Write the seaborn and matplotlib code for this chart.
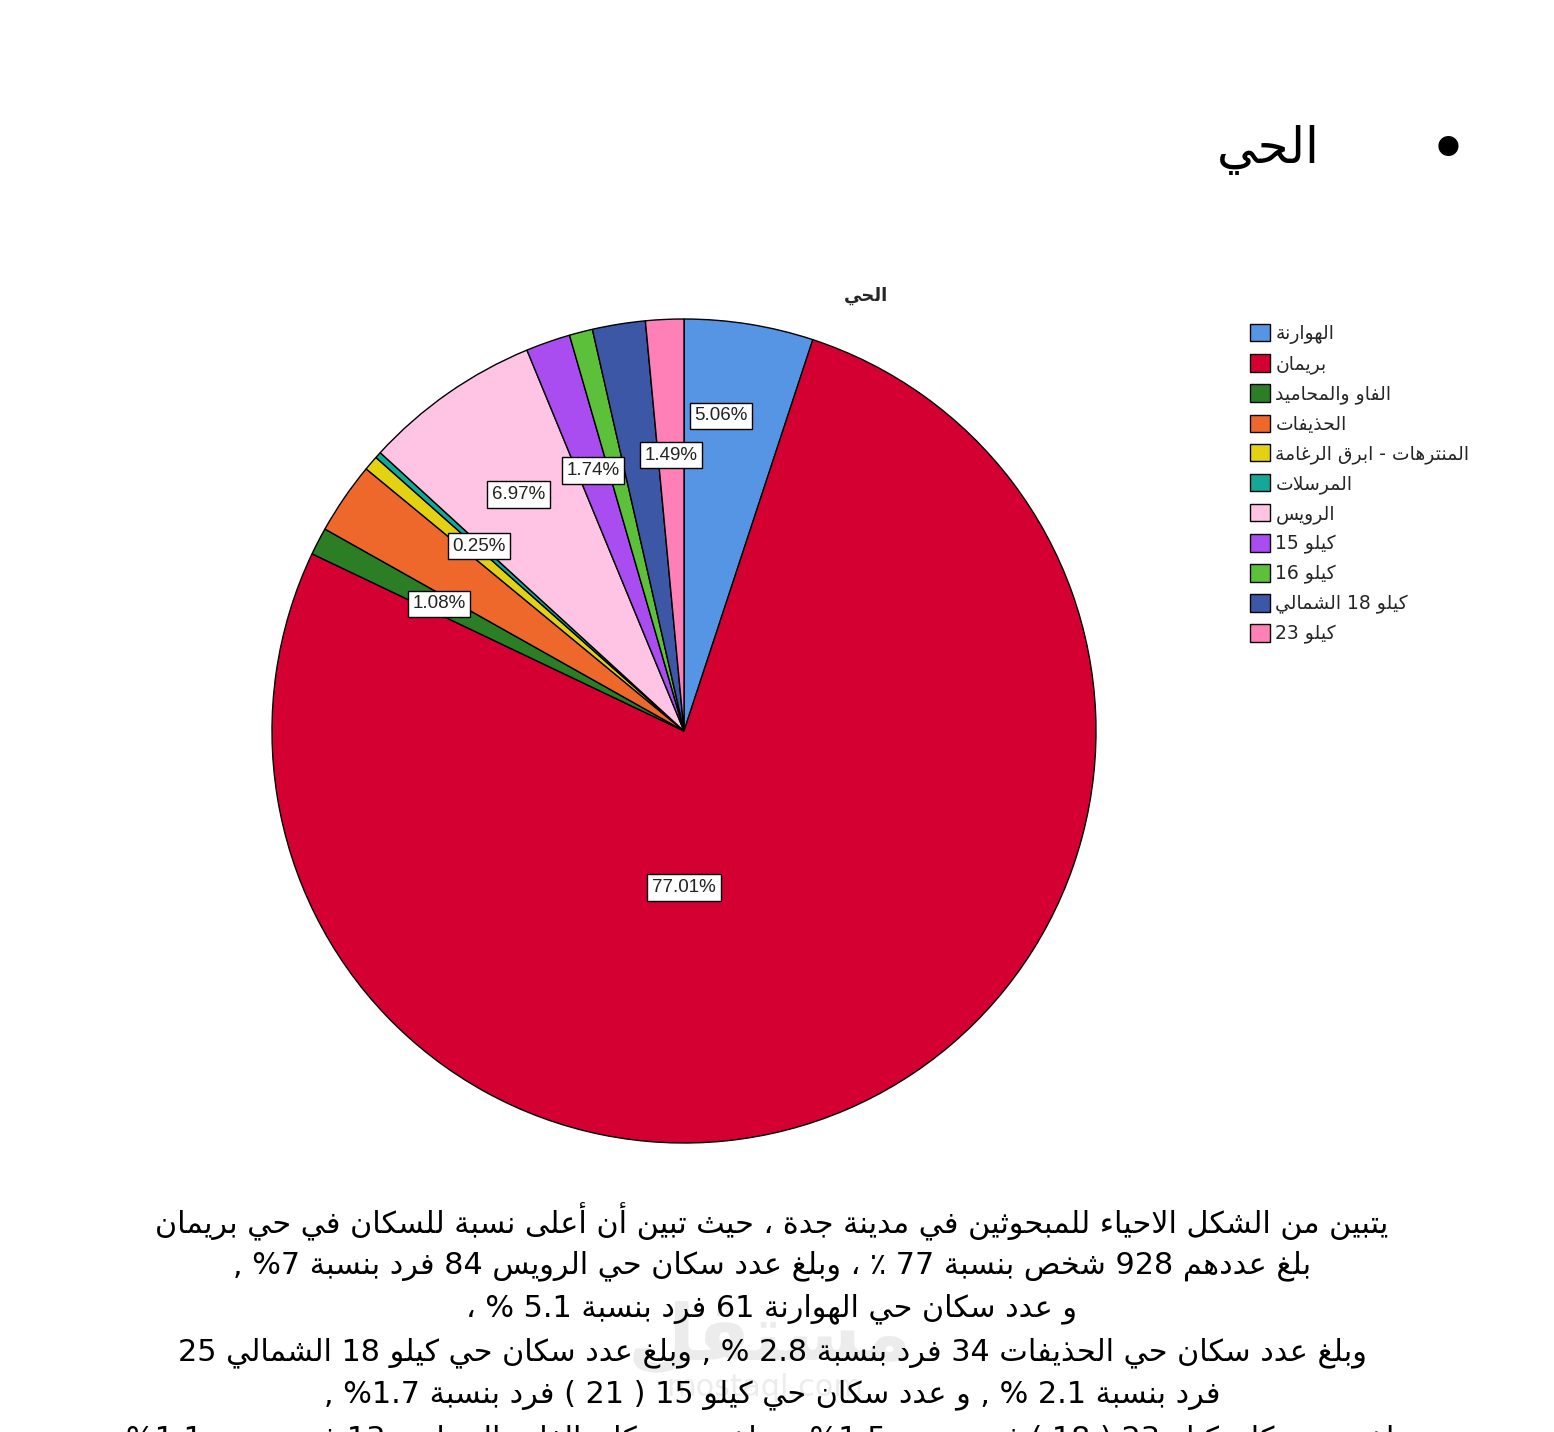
import re
import matplotlib
matplotlib.use("Agg")
import matplotlib.pyplot as plt
import seaborn as sns
import numpy as np
from matplotlib.patches import Patch

# ---------------- data ----------------
categories = ["الهوارنة", "بريمان", "الفاو والمحاميد", "الحذيفات",
              "المنترهات - ابرق الرغامة", "المرسلات", "الرويس",
              "كيلو 15", "كيلو 16", "كيلو 18 الشمالي", "كيلو 23"]
counts = [61, 928, 13, 34, 7, 3, 84, 21, 11, 25, 18]
shown_labels = ["5.06%", "77.01%", "1.08%", "", "", "0.25%", "6.97%",
                "1.74%", "", "", "1.49%"]
slice_colors = ["#5694E4", "#D50032", "#2B7E24", "#EE682B", "#E3D211",
                "#14A898", "#FFC3E3", "#A94CF0", "#5DC03B", "#3C57A6",
                "#FF80B6"]
chart_title = "الحي"
page_title = "الحي"
body_lines = [
    "يتبين من الشكل الاحياء للمبحوثين في مدينة جدة ، حيث تبين أن أعلى نسبة للسكان في حي بريمان",
    "بلغ عددهم 928 شخص بنسبة 77 ٪ ، وبلغ عدد سكان حي الرويس 84 فرد بنسبة 7% ,",
    "و عدد سكان حي الهوارنة 61 فرد بنسبة 5.1 % ،",
    "وبلغ عدد سكان حي الحذيفات 34 فرد بنسبة 2.8 % , وبلغ عدد سكان حي كيلو 18 الشمالي 25",
    "فرد بنسبة 2.1 % , و عدد سكان حي كيلو 15 ( 21 ) فرد بنسبة 1.7% ,",
    "وبلغ عدد سكان كيلو 23 ( 18 ) فرد بنسبة 1.5% , وبلغ عدد سكان الفاو والمحاميد 13 فرد بنسبة 1.1%",
]

# ---------------- minimal Arabic shaping + RTL ordering ----------------
_DUAL = {'ئ': 0xFE89, 'ب': 0xFE8F, 'ت': 0xFE95, 'ث': 0xFE99, 'ج': 0xFE9D,
         'ح': 0xFEA1, 'خ': 0xFEA5, 'س': 0xFEB1, 'ش': 0xFEB5, 'ص': 0xFEB9,
         'ض': 0xFEBD, 'ط': 0xFEC1, 'ظ': 0xFEC5, 'ع': 0xFEC9, 'غ': 0xFECD,
         'ف': 0xFED1, 'ق': 0xFED5, 'ك': 0xFED9, 'ل': 0xFEDD, 'م': 0xFEE1,
         'ن': 0xFEE5, 'ه': 0xFEE9, 'ي': 0xFEF1}
_RIGHT = {'آ': 0xFE81, 'أ': 0xFE83, 'ؤ': 0xFE85, 'إ': 0xFE87, 'ا': 0xFE8D,
          'ة': 0xFE93, 'د': 0xFEA9, 'ذ': 0xFEAB, 'ر': 0xFEAD, 'ز': 0xFEAF,
          'و': 0xFEED, 'ى': 0xFEEF}
_LIG = {'آ': 0xFEF5, 'أ': 0xFEF7, 'إ': 0xFEF9, 'ا': 0xFEFB}
_MIRROR = {'(': ')', ')': '(', '[': ']', ']': '['}


def _shape(s):
    units = []
    i = 0
    while i < len(s):
        c = s[i]
        if c == 'ل' and i + 1 < len(s) and s[i + 1] in _LIG:
            units.append(('R', _LIG[s[i + 1]], c))
            i += 2
            continue
        if c in _DUAL:
            units.append(('D', _DUAL[c], c))
        elif c in _RIGHT:
            units.append(('R', _RIGHT[c], c))
        else:
            units.append(('N', None, c))
        i += 1
    out = []
    for k, (kind, base, c) in enumerate(units):
        if kind == 'N':
            out.append(c)
            continue
        prev = units[k - 1][0] if k > 0 else 'N'
        nxt = units[k + 1][0] if k + 1 < len(units) else 'N'
        jp = prev == 'D'
        jn = kind == 'D' and nxt in ('D', 'R')
        off = 3 if (jp and jn) else 1 if jp else 2 if jn else 0
        out.append(chr(base + off))
    return ''.join(out)


def ar(s):
    s = _shape(s)
    tokens = re.findall(r'[0-9A-Za-z]+(?:\.[0-9]+)*|[^0-9A-Za-z]+', s)
    out = []
    for t in reversed(tokens):
        if re.match(r'[0-9A-Za-z]', t):
            out.append(t)
        else:
            out.append(''.join(_MIRROR.get(ch, ch) for ch in reversed(t)))
    return ''.join(out)


# ---------------- figure ----------------
sns.set_theme(style="white")
plt.rcParams['font.family'] = ['DejaVu Sans']
palette = sns.color_palette(slice_colors)

W, H = 1554, 1432
fig = plt.figure(figsize=(W / 100, H / 100), dpi=100)
fig.patch.set_facecolor("white")

cx, cy, R = 684, 731, 412
pad = 1.02
half = R * pad
ax = fig.add_axes([(cx - half) / W, 1 - (cy + half) / H, 2 * half / W, 2 * half / H])
wedges, _ = ax.pie(counts, colors=palette, startangle=90, counterclock=False,
                   radius=1.0, wedgeprops=dict(edgecolor="black", linewidth=1.0))
ax.set_xlim(-pad, pad)
ax.set_ylim(-pad, pad)
ax.set_aspect("equal")
ax.axis("off")

# percentage labels (radial distance, optional angle override)
label_layout = {0: (0.77, 83.3), 1: (0.38, 270.0), 2: (0.67, None), 5: (0.67, None),
                6: (0.70, None), 7: (0.67, None), 10: (0.67, None)}
for i, (w, lab) in enumerate(zip(wedges, shown_labels)):
    if not lab:
        continue
    r, ang = label_layout[i]
    if ang is None:
        ang = (w.theta1 + w.theta2) / 2
    x = r * np.cos(np.deg2rad(ang))
    y = r * np.sin(np.deg2rad(ang))
    ax.text(x, y, lab, ha="center", va="center", fontsize=13.5,
            family=["Liberation Sans", "DejaVu Sans"], color="#222222",
            bbox=dict(boxstyle="square,pad=0.25", fc="white", ec="black", lw=1.0))

# chart title
fig.text(866 / W, 1 - 296 / H, ar(chart_title), ha="center", va="center",
         fontsize=13, fontweight="bold")

# legend
handles = [Patch(facecolor=c, edgecolor="black", linewidth=1.0) for c in palette]
fig.legend(handles, [ar(c) for c in categories], loc="upper left",
           bbox_to_anchor=(1250 / W, 1 - 324 / H), frameon=False, fontsize=13.5,
           handlelength=1.05, handleheight=1.05, handletextpad=0.3,
           labelspacing=0.55, borderpad=0, borderaxespad=0)

# page title with bullet
fig.text(1268 / W, 1 - 150 / H, ar(page_title), ha="center", va="center",
         fontsize=36, color="black")
fig.text(1448 / W, 1 - 152 / H, "•", ha="center", va="center",
         fontsize=50, color="black")

# watermark (faint)
fig.text(770 / W, 1 - 1338 / H, ar("مستقل"), ha="center", va="center",
         fontsize=56, fontweight="bold", color="#dadada", alpha=0.5, zorder=0)
fig.text(765 / W, 1 - 1387 / H, "mostaql.com", ha="center", va="center",
         fontsize=22, color="#dadada", alpha=0.5, zorder=0)

# body text
line_y = [1222, 1266, 1309, 1353, 1395, 1440]
for yy, line in zip(line_y, body_lines):
    fig.text(772 / W, 1 - yy / H, ar(line), ha="center", va="center",
             fontsize=21.8, color="black", zorder=2)

fig.savefig("out.png", dpi=100, facecolor="white")
